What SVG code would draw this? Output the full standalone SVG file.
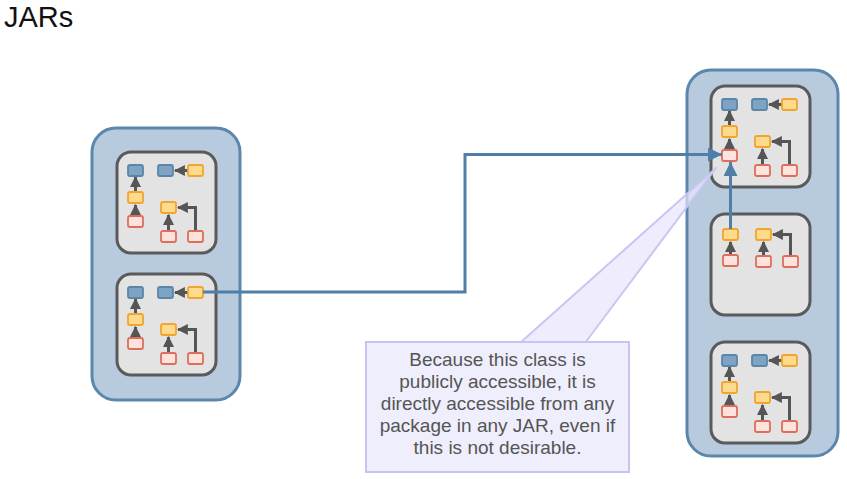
<svg xmlns="http://www.w3.org/2000/svg" xmlns:xlink="http://www.w3.org/1999/xlink" width="847" height="479" viewBox="0 0 847 479">
<style>
.jar{fill:#b8cbde;stroke:#5c87ac;stroke-width:3}
.pkg{fill:#e3e3e3;stroke:#5a5a5a;stroke-width:3}
.b{fill:#7fa3c3;stroke:#5a86aa;stroke-width:1.8}
.y{fill:#ffd98c;stroke:#efa52e;stroke-width:1.8}
.r{fill:#fde2dd;stroke:#de6e5c;stroke-width:1.8}
.dep{fill:none;stroke:#555;stroke-width:3}
.con{fill:none;stroke:#4f7fa6;stroke-width:3}
.title{font-family:"Liberation Sans",Arial,sans-serif;font-size:29px;fill:#111}
.note{font-family:"Liberation Sans",Arial,sans-serif;font-size:19px;fill:#555;text-anchor:middle}
</style>
<defs>
<marker id="ah" viewBox="0 0 10 10" refX="9" refY="5" markerWidth="11" markerHeight="12" markerUnits="userSpaceOnUse" orient="auto">
<path d="M0,0 L10,5 L0,10 z" fill="#555"/>
</marker>
<marker id="ahb" viewBox="0 0 10 10" refX="10" refY="5" markerWidth="14" markerHeight="14" markerUnits="userSpaceOnUse" orient="auto">
<path d="M0,0 L10,5 L0,10 z" fill="#4f7fa6"/>
</marker>
<g id="pkgFull">
<rect class="pkg" x="0" y="0" width="99" height="101" rx="14"/>
<path class="dep" d="M18.5,40 V25" marker-end="url(#ah)"/>
<path class="dep" d="M18.5,64 V53" marker-end="url(#ah)"/>
<path class="dep" d="M71,18.5 H58" marker-end="url(#ah)"/>
<path class="dep" d="M51.5,79 V63" marker-end="url(#ah)"/>
<path class="dep" d="M78.5,79 V55.5 H61" marker-end="url(#ah)"/>
<rect class="b" x="11" y="13" width="15" height="11" rx="2"/>
<rect class="b" x="41" y="13" width="15" height="11" rx="2"/>
<rect class="y" x="71" y="13" width="15" height="11" rx="2"/>
<rect class="y" x="11" y="40" width="15" height="11" rx="2"/>
<rect class="r" x="11" y="64" width="15" height="11" rx="2"/>
<rect class="y" x="44" y="50" width="15" height="11" rx="2"/>
<rect class="r" x="44" y="79" width="15" height="11" rx="2"/>
<rect class="r" x="71" y="79" width="15" height="11" rx="2"/>
</g>
</defs>
<text class="title" x="4" y="27">JARs</text>
<g id="jar-left">
<rect class="jar" x="92" y="128" width="148" height="272" rx="24"/>
</g>
<g id="pkg-left-1"><use xlink:href="#pkgFull" transform="translate(117,152)"/></g>
<g id="pkg-left-2"><use xlink:href="#pkgFull" transform="translate(117,274)"/></g>
<g id="jar-right">
<rect class="jar" x="687" y="70" width="151" height="386" rx="24"/>
</g>
<g id="pkg-right-1"><use xlink:href="#pkgFull" transform="translate(711,86)"/></g>
<g id="pkg-right-2" transform="translate(711,214)">
<rect class="pkg" x="0" y="0" width="99" height="101" rx="14"/>
<path class="dep" d="M19.5,41 V28" marker-end="url(#ah)"/>
<path class="dep" d="M52.5,42 V28" marker-end="url(#ah)"/>
<path class="dep" d="M79.5,42 V20.5 H62" marker-end="url(#ah)"/>
<rect class="y" x="12" y="15" width="15" height="11" rx="2"/>
<rect class="r" x="12" y="41" width="15" height="11" rx="2"/>
<rect class="y" x="45" y="15" width="15" height="11" rx="2"/>
<rect class="r" x="45" y="42" width="15" height="11" rx="2"/>
<rect class="r" x="72" y="42" width="15" height="11" rx="2"/>
</g>
<g id="pkg-right-3"><use xlink:href="#pkgFull" transform="translate(711,342)"/></g>
<g id="connectors">
<path class="con" d="M203,292 H465 V154.5 H722" marker-end="url(#ahb)"/>
<path class="con" d="M730.5,229 V162" marker-end="url(#ahb)"/>
</g>
<g id="callout">
<polygon points="520,343 585,343 716,168" fill="#e8e6fc" fill-opacity="0.7" stroke="#c9c5f4" stroke-width="2" stroke-linejoin="round"/>
<rect x="366" y="342" width="263" height="130" fill="#efeefc" stroke="#c8c4f2" stroke-width="2"/>
<text class="note" x="497.5" y="366">Because this class is</text>
<text class="note" x="497.5" y="388">publicly accessible, it is</text>
<text class="note" x="497.5" y="410">directly accessible from any</text>
<text class="note" x="497.5" y="432">package in any JAR, even if</text>
<text class="note" x="497.5" y="454">this is not desirable.</text>
</g>
</svg>
